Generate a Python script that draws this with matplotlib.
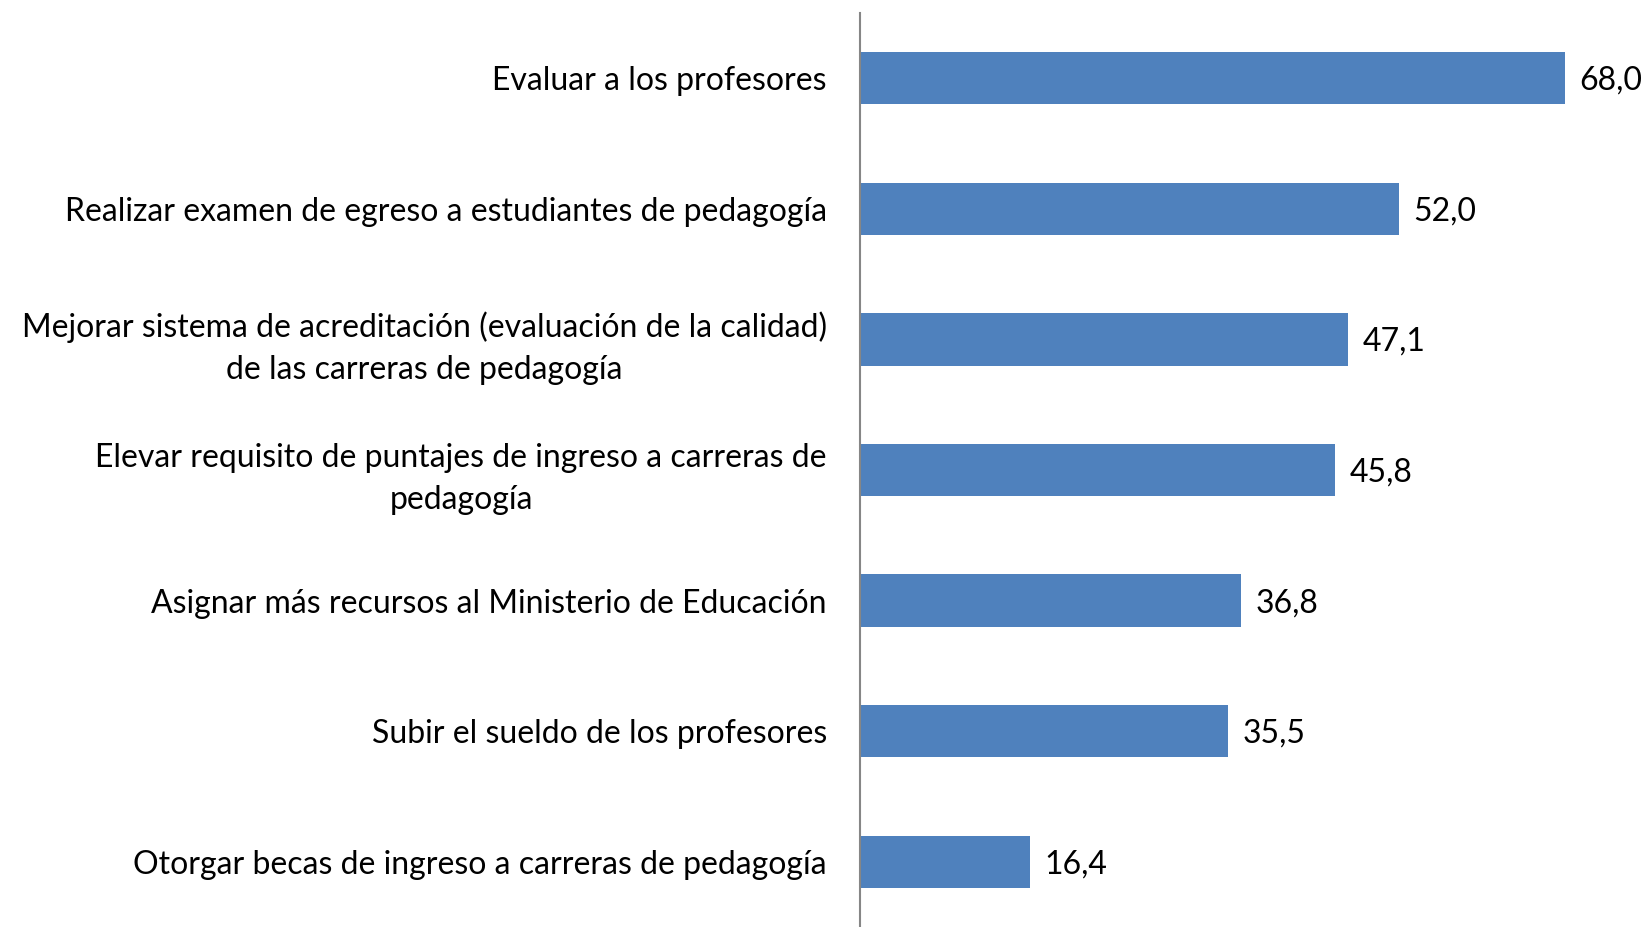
import matplotlib.pyplot as plt
import numpy as np

categories = [
    'Evaluar a los profesores',
    'Realizar examen de egreso a estudiantes de pedagogía',
    'Mejorar sistema de acreditación (evaluación de la calidad)\nde las carreras de pedagogía',
    'Elevar requisito de puntajes de ingreso a carreras de\npedagogía',
    'Asignar más recursos al Ministerio de Educación',
    'Subir el sueldo de los profesores',
    'Otorgar becas de ingreso a carreras de pedagogía',
]
values = [68.0, 52.0, 47.1, 45.8, 36.8, 35.5, 16.4]

plt.rcParams['font.family'] = ['Lato', 'DejaVu Sans']

fig = plt.figure(figsize=(16.48, 9.27), dpi=100)
ax = fig.add_axes([0.522, 0.0, 0.440, 0.986])

y = np.arange(len(categories))
ax.barh(y, values, height=0.4, color='#4F81BD')

for yi, v in zip(y, values):
    ax.text(v + 1.4, yi + 0.02, f'{v:.1f}'.replace('.', ','), va='center', ha='left',
            fontsize=23, color='black', clip_on=False)

ax.set_yticks(y)
ax.set_yticklabels(categories, fontsize=23, multialignment='center', linespacing=1.5)
ax.tick_params(axis='y', length=0, pad=24)

ax.set_ylim(len(categories) - 0.5, -0.5)
ax.set_xlim(0, 70)
ax.set_xticks([])

for s in ['top', 'right', 'bottom']:
    ax.spines[s].set_visible(False)
ax.spines['left'].set_color('#868686')
ax.spines['left'].set_linewidth(1.5)

fig.savefig('out.png', dpi=100)
